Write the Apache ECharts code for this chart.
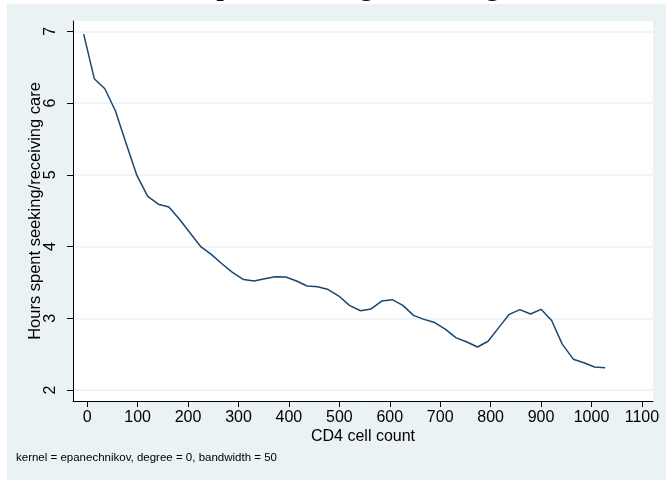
<!DOCTYPE html>
<html>
<head>
<meta charset="utf-8">
<script src="https://cdn.jsdelivr.net/npm/echarts@6/dist/echarts.min.js"></script>
<style>
  html, body { margin: 0; padding: 0; background: #ffffff; }
  #chart { width: 666px; height: 480px; }
</style>
</head>
<body>
<div id="chart"></div>
<script>
// Local polynomial smooth of hours spent seeking/receiving care on CD4 count
const cd4Grid = [
  -7, 14, 35, 56, 77, 98, 120, 141, 162, 183,
  204, 225, 246, 267, 288, 310, 331, 352, 373, 394,
  415, 436, 457, 478, 499, 520, 542, 563, 584, 605,
  626, 647, 668, 689, 710, 731, 753, 774, 795, 816,
  837, 858, 879, 900, 921, 942, 964, 985, 1006, 1027
];
const hoursSmooth = [
  6.96, 6.34, 6.20, 5.89, 5.44, 5.00, 4.70, 4.59, 4.55, 4.38,
  4.19, 4.00, 3.89, 3.76, 3.64, 3.54, 3.52, 3.55, 3.58, 3.575,
  3.52, 3.45, 3.44, 3.40, 3.31, 3.18, 3.105, 3.13, 3.24, 3.26,
  3.18, 3.04, 2.985, 2.94, 2.85, 2.73, 2.67, 2.60, 2.68, 2.87,
  3.055, 3.12, 3.06, 3.125, 2.97, 2.64, 2.43, 2.38, 2.32, 2.31
];
const xTicks = [0, 100, 200, 300, 400, 500, 600, 700, 800, 900, 1000, 1100];
const yTicks = [2, 3, 4, 5, 6, 7];

const titleText = 'Hours spent seeking/receiving care';
const yAxisTitle = 'Hours spent seeking/receiving care';
const xAxisTitle = 'CD4 cell count';
const noteText = 'kernel = epanechnikov, degree = 0, bandwidth = 50';

const chart = echarts.init(document.getElementById('chart'), null, { renderer: 'canvas' });

const sans = 'Liberation Sans, Arial, Helvetica, sans-serif';

chart.setOption({
  animation: false,
  backgroundColor: '#ffffff',
  graphic: [
    {
      type: 'rect', z: -10, silent: true,
      shape: { x: 7, y: 4, width: 659, height: 476 },
      style: { fill: '#eaf2f3' }
    },
    {
      // chart title, set large above the panel (sits behind the panel fill)
      type: 'text', z: -20, silent: true,
      left: 119, top: -30,
      style: { text: titleText, font: '31.5px "Liberation Serif", "Times New Roman", serif', fill: '#000000' }
    },
    {
      type: 'text', z: 5, silent: true,
      left: 16, top: 452,
      style: { text: noteText, font: '11.5px ' + sans, fill: '#000000' }
    }
  ],
  grid: {
    left: 73, right: 13, top: 21, bottom: 79,
    show: true, backgroundColor: '#ffffff', borderWidth: 0
  },
  xAxis: {
    type: 'value',
    min: -28.2, max: 1122,
    name: xAxisTitle,
    nameLocation: 'middle',
    nameGap: 28,
    nameMoveOverlap: false,
    nameTextStyle: { fontFamily: sans, fontSize: 16, color: '#000000' },
    axisLine: { show: true, onZero: false, lineStyle: { color: '#000000', width: 1 } },
    axisTick: { show: true, length: 6, customValues: xTicks, lineStyle: { color: '#000000', width: 1 } },
    axisLabel: {
      customValues: xTicks, fontFamily: sans, fontSize: 16, color: '#000000', margin: 9,
      formatter: v => String(v)
    },
    splitLine: { show: false }
  },
  yAxis: {
    type: 'value',
    min: 1.847, max: 7.144,
    name: yAxisTitle,
    nameLocation: 'middle',
    nameGap: 29,
    nameMoveOverlap: false,
    nameTextStyle: { fontFamily: sans, fontSize: 16.5, color: '#000000' },
    axisLine: { show: true, onZero: false, lineStyle: { color: '#000000', width: 1 } },
    axisTick: { show: true, length: 6, customValues: yTicks, lineStyle: { color: '#000000', width: 1 } },
    axisLabel: {
      customValues: yTicks, rotate: 90, fontFamily: sans, fontSize: 16, color: '#000000', margin: 14,
      formatter: v => String(v)
    },
    splitLine: { show: true, lineStyle: { color: '#eaf2f3', width: 1.5 } }
  },
  series: [
    {
      type: 'line',
      data: cd4Grid.map((x, i) => [x, hoursSmooth[i]]),
      showSymbol: false,
      lineStyle: { color: '#1a476f', width: 1.5 },
      z: 3
    }
  ]
});
</script>
</body>
</html>
